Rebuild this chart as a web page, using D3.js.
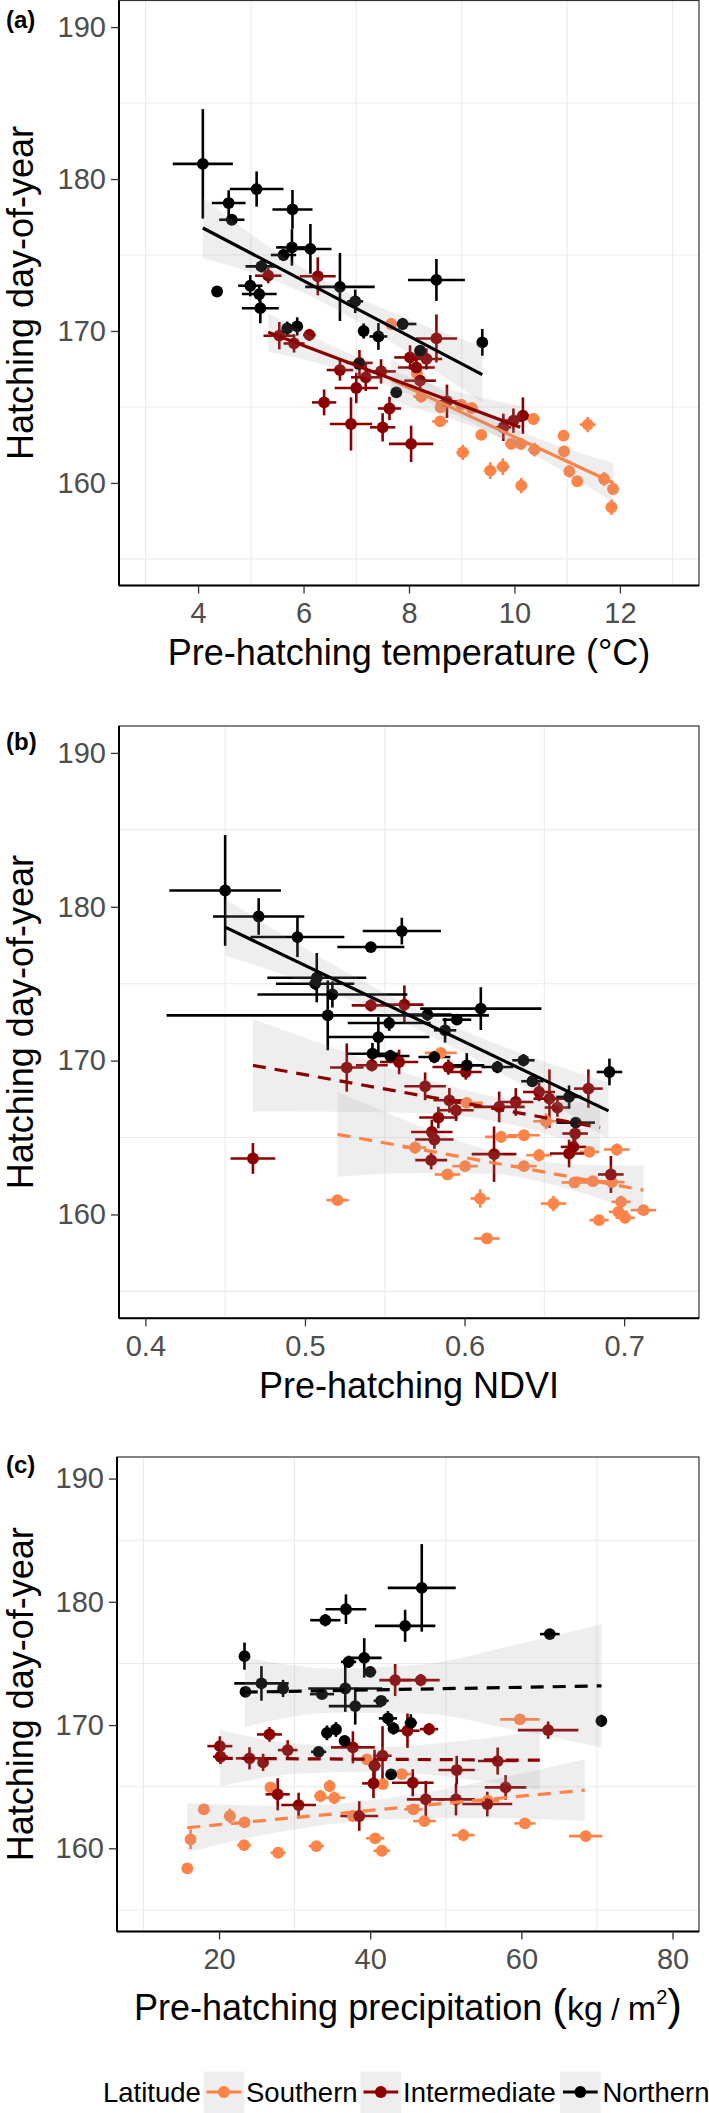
<!DOCTYPE html>
<html><head><meta charset="utf-8">
<script src="https://cdn.jsdelivr.net/npm/d3@7/dist/d3.min.js"></script>
<style>body{margin:0;background:#fff}svg{display:block}</style>
</head><body>
<svg id="chart" width="709" height="2113"></svg>
<script>
// ---------------- DATA ----------------
const groups = ["Southern", "Intermediate", "Northern"];
const groupColors = ["#FF8247", "#8B0000", "#000000"];
const yLimits = [155, 190];
const yTicks = [160, 170, 180, 190];
const yMinor = [155, 165, 175, 185];

const tempLimits = [3, 13];
const tempTicks = [4, 6, 8, 10, 12];
const tempMinor = [3, 5, 7, 9, 11, 13];
const ndviLimits = [0.4, 0.7304];
const ndviTicks = [0.4, 0.5, 0.6, 0.7];
const ndviMinor = [0.45, 0.55, 0.65];
const precLimits = [10, 80];
const precTicks = [20, 40, 60, 80];
const precMinor = [10, 30, 50, 70];

// [x, hatching day, x half-error, y half-error]
const tempSouthern = [
 [7.66,170.46,0.1,0.4],[8.15,167.2,0.1,0.3],[8.23,165.68,0.15,0.4],[8.59,164.05,0.15,0.35],
 [8.6,164.97,0.1,0.3],[8.99,165.15,0.12,0.3],[9.19,164.93,0.12,0.3],[9.02,162.01,0.12,0.5],
 [9.37,163.16,0.1,0.3],[9.54,160.81,0.12,0.55],[9.78,161.07,0.12,0.55],[9.94,162.57,0.12,0.3],
 [10.12,162.57,0.12,0.4],[10.13,159.82,0.1,0.5],[10.36,164.21,0.12,0.4],[10.38,162.19,0.12,0.45],
 [10.93,163.11,0.1,0.3],[10.94,162.08,0.1,0.3],[11.39,163.84,0.15,0.5],[11.04,160.76,0.1,0.4],
 [11.19,160.11,0.1,0.3],[11.7,160.26,0.1,0.45],[11.87,159.6,0.1,0.35],[11.84,158.4,0.1,0.5]
];
const tempIntermediate = [
 [5.33,173.64,0.25,0.5],[6.27,173.6,0.34,1.25],[5.54,169.69,0.3,0.9],[5.82,169.18,0.2,0.6],
 [6.11,169.74,0.12,0.4],[6.69,167.43,0.25,0.7],[7.18,166.95,0.28,0.9],[7.47,167.34,0.28,0.8],
 [7.0,166.25,0.41,1.0],[6.39,165.3,0.23,0.85],[6.9,163.88,0.4,1.75],[7.63,164.9,0.22,0.77],
 [7.5,163.66,0.24,0.93],[8.04,162.57,0.42,1.2],[8.02,168.26,0.3,0.8],[8.52,169.51,0.39,1.58],
 [8.33,168.16,0.3,0.7],[8.14,167.6,0.35,0.9],[8.21,166.73,0.3,0.6],[8.72,165.37,0.2,1.1],
 [9.79,163.66,0.15,0.9],[9.98,164.1,0.2,0.8],[10.16,164.43,0.12,1.2],[7.06,167.9,0.25,0.85]
];
const tempNorthern = [
 [4.09,181.0,0.57,3.6],[4.58,178.42,0.32,0.84],[4.64,177.32,0.24,0.3],[5.11,179.34,0.51,1.16],
 [5.79,178.0,0.38,1.28],[5.78,175.5,0.3,1.2],[5.62,175.0,0.24,0.4],[6.13,175.4,0.4,1.64],
 [5.2,174.25,0.3,0.4],[4.36,172.6,0.05,0.35],[4.99,172.98,0.23,0.7],[5.16,172.43,0.33,0.5],
 [5.18,171.5,0.35,0.99],[6.69,172.9,0.66,2.24],[6.98,171.95,0.15,0.77],[5.69,170.17,0.1,0.45],
 [5.88,170.3,0.1,0.6],[7.14,170.0,0.1,0.5],[7.42,169.64,0.17,0.88],[7.88,170.46,0.26,0.4],
 [7.05,167.83,0.1,0.3],[7.76,165.96,0.08,0.3],[8.21,168.7,0.1,0.3],[8.52,173.36,0.54,1.38],
 [9.39,169.25,0.08,0.88]
];

const ndviSouthern = [
 [0.5204,160.93,0.007,0.3],[0.569,164.35,0.007,0.4],[0.5851,170.5,0.01,0.3],[0.6014,167.25,0.01,0.3],
 [0.6511,166.06,0.008,0.5],[0.6229,165.04,0.01,0.4],[0.6372,165.15,0.01,0.3],[0.6467,163.85,0.008,0.4],
 [0.6783,164.07,0.006,0.3],[0.6954,164.22,0.008,0.4],[0.6004,163.14,0.008,0.3],[0.5893,162.6,0.008,0.3],
 [0.6372,163.14,0.008,0.3],[0.6689,162.08,0.008,0.3],[0.6804,162.16,0.008,0.3],[0.6923,162.1,0.008,0.4],
 [0.6098,161.04,0.006,0.6],[0.6557,160.71,0.008,0.5],[0.6981,160.82,0.006,0.4],[0.6964,160.17,0.006,0.3],
 [0.7006,159.78,0.006,0.3],[0.6843,159.63,0.006,0.3],[0.7121,160.28,0.008,0.3],[0.614,158.44,0.008,0.3]
];
const ndviIntermediate = [
 [0.5413,173.59,0.012,0.4],[0.5623,173.64,0.012,1.25],[0.5262,169.55,0.0105,1.57],[0.5419,169.7,0.01,0.4],
 [0.559,169.91,0.012,0.8],[0.5753,168.33,0.013,0.9],[0.4674,163.64,0.014,1.0],[0.5795,165.36,0.013,0.8],
 [0.5811,164.87,0.012,0.6],[0.5791,163.53,0.01,0.6],[0.5836,166.3,0.012,0.7],[0.5899,169.58,0.01,0.5],
 [0.6008,169.26,0.01,0.5],[0.5905,167.42,0.01,0.8],[0.5947,166.77,0.011,0.7],[0.6217,166.99,0.016,1.0],
 [0.6321,167.31,0.011,0.9],[0.6185,163.92,0.014,1.8],[0.6467,167.96,0.01,0.6],[0.6532,167.53,0.01,1.9],
 [0.6582,166.95,0.008,0.6],[0.6776,168.18,0.009,1.25],[0.6693,165.26,0.008,0.7],[0.6683,164.39,0.008,0.6],
 [0.6655,163.96,0.012,0.9],[0.6917,162.6,0.008,1.2]
];
const ndviNorthern = [
 [0.45,181.06,0.035,3.6],[0.471,179.37,0.0286,1.19],[0.4953,178.03,0.0294,1.3],[0.5607,178.42,0.0245,0.87],
 [0.5413,177.38,0.021,0.3],[0.5074,175.39,0.031,1.6],[0.5064,175.0,0.0245,0.4],[0.5172,174.3,0.047,0.85],
 [0.5143,172.94,0.101,2.27],[0.5528,172.44,0.026,0.5],[0.546,171.53,0.032,1.3],[0.5423,170.45,0.016,0.7],
 [0.5535,170.3,0.012,0.4],[0.5768,172.99,0.015,0.4],[0.5811,170.23,0.01,0.4],[0.5952,172.66,0.009,0.3],
 [0.5878,171.97,0.007,0.8],[0.6102,173.38,0.038,1.39],[0.6014,169.69,0.011,0.8],[0.6206,169.58,0.01,0.4],
 [0.6369,170.02,0.007,0.4],[0.6425,168.66,0.007,0.3],[0.6655,167.64,0.008,0.75],[0.6697,165.97,0.012,0.3],
 [0.6908,169.26,0.008,0.87]
];

const precSouthern = [
 [15.8,158.37,0.3,0.3],[16.24,160.73,0.4,0.8],[17.99,163.16,0.3,0.3],[21.43,162.62,0.8,0.6],
 [23.37,162.1,0.5,0.3],[23.3,160.26,0.9,0.3],[27.81,159.64,1.0,0.3],[32.87,160.18,1.0,0.3],
 [26.8,164.94,0.5,0.3],[33.4,164.24,0.8,0.5],[34.63,165.05,0.6,0.5],[35.25,164.1,1.4,0.5],
 [39.56,167.21,1.3,0.3],[41.68,165.21,0.6,0.3],[37.71,162.62,1.0,0.3],[40.66,160.81,1.2,0.4],
 [41.54,159.8,1.1,0.3],[44.18,166.02,1.2,0.3],[45.72,163.16,1.2,0.3],[47.17,162.21,1.5,0.3],
 [59.8,170.46,2.6,0.3],[60.46,162.02,1.4,0.3],[52.32,161.07,1.5,0.5],[68.51,160.99,2.2,0.3],
 [55.54,163.86,1.5,0.3]
];
const precIntermediate = [
 [43.3,173.65,2.1,1.3],[46.69,173.65,2.5,0.5],[20.11,168.29,1.65,0.8],[20.2,167.43,1.0,0.6],
 [24.03,167.3,1.8,0.9],[25.83,166.97,0.5,0.7],[26.67,169.24,1.65,0.6],[29.08,167.97,1.3,0.8],
 [27.76,164.38,1.6,1.3],[30.53,163.51,2.3,1.0],[37.71,168.19,2.9,1.3],[40.57,166.7,0.8,1.3],
 [40.43,165.27,1.5,1.2],[41.63,167.51,1.2,2.4],[38.55,162.62,2.5,1.2],[47.79,169.67,1.2,0.5],
 [44.93,169.54,1.6,1.4],[45.63,165.32,2.75,1.1],[51.44,166.35,2.4,1.15],[56.86,167.08,2.6,1.1],
 [63.54,169.59,4.0,0.7],[57.91,164.94,2.75,1.0],[47.35,163.97,2.5,1.5],[51.35,163.97,2.5,1.3],
 [55.49,163.59,3.3,1.0]
];
const precNorthern = [
 [23.37,175.59,0.4,1.1],[25.61,173.38,3.6,1.4],[23.5,172.7,0.5,0.3],[28.47,172.97,0.6,0.7],
 [33.62,172.51,1.6,0.3],[34.06,178.51,2.0,0.5],[36.79,179.4,2.7,1.2],[37.14,175.13,1.0,0.5],
 [39.21,175.45,2.3,1.6],[40.0,174.32,0.8,0.4],[36.7,172.97,4.9,1.9],[38.02,171.54,3.5,1.5],
 [41.45,171.97,1.0,0.4],[34.28,169.37,0.5,0.6],[35.47,169.64,0.5,0.6],[36.61,168.72,0.5,0.4],
 [33.18,167.83,1.0,0.4],[42.34,170.54,1.2,0.6],[43.08,169.73,0.6,0.5],[42.77,166.0,0.5,0.3],
 [46.82,181.13,4.5,3.55],[44.62,178.05,4.0,1.3],[63.76,177.38,1.3,0.3],[70.59,170.34,0.3,0.5],
 [45.37,170.18,0.8,0.7]
];

// fitted lines: [group, x0, y0, x1, y1, line type]
const tempFits = [
 ["Southern", 7.66, 166.8, 11.88, 160.0, "solid"],
 ["Intermediate", 5.33, 169.91, 10.11, 163.66, "solid"],
 ["Northern", 4.09, 176.78, 9.39, 167.13, "solid"]
];
const ndviFits = [
 ["Southern", 0.5204, 165.21, 0.7121, 161.58, "dashed"],
 ["Intermediate", 0.4674, 169.69, 0.685, 165.65, "dashed"],
 ["Northern", 0.45, 178.68, 0.6902, 166.73, "solid"]
];
const precFits = [
 ["Southern", 15.8, 161.67, 68.38, 164.72, "dashed"],
 ["Intermediate", 20.1, 167.3, 62.44, 167.15, "dashed"],
 ["Northern", 23.4, 172.67, 70.6, 173.18, "dashed"]
];
// confidence band half-widths (days) at 5 evenly spaced points along each fit
const tempBands = [
 ["Southern", 1.4, 0.8, 0.5, 0.75, 1.3],
 ["Intermediate", 1.26, 0.7, 0.55, 0.8, 1.4],
 ["Northern", 2.0, 1.0, 0.75, 1.15, 1.85]
];
const ndviBands = [
 ["Southern", 2.76, 1.6, 0.75, 0.8, 1.6],
 ["Intermediate", 3.0, 2.0, 1.1, 0.85, 1.6],
 ["Northern", 1.84, 1.0, 0.65, 0.95, 1.84]
];
const precBands = [
 ["Southern", 1.98, 1.0, 0.85, 1.5, 2.5],
 ["Intermediate", 2.3, 1.2, 1.0, 1.5, 2.4],
 ["Northern", 2.84, 1.8, 2.0, 3.4, 5.0]
];

// ---------------- DRAWING ----------------
const svg = d3.select("#chart");
svg.append("rect").attr("width", 709).attr("height", 2113).attr("fill", "#fff");
const FONT = "'Liberation Sans', Arial, Helvetica, sans-serif";
const color = d3.scaleOrdinal().domain(groups).range(groupColors);
function expand(l) { const r = l[1] - l[0]; return [l[0] - 0.05 * r, l[1] + 0.05 * r]; }
const PR = 5.9, EW = 2.6, LW = 3.2;

const panels = [
 { label: "(a)", labelY: 27.5, left: 119, right: 699, top: 0.5, bottom: 585.5,
   limits: tempLimits, ticks: tempTicks, minor: tempMinor, fmt: d3.format("d"),
   title: "Pre-hatching temperature (°C)", titleY: 665,
   sets: [tempSouthern, tempIntermediate, tempNorthern], fits: tempFits, bands: tempBands },
 { label: "(b)", labelY: 749.5, left: 119, right: 699, top: 726, bottom: 1318.3,
   limits: ndviLimits, ticks: ndviTicks, minor: ndviMinor, fmt: d3.format(".1f"),
   title: "Pre-hatching NDVI", titleY: 1397.5,
   sets: [ndviSouthern, ndviIntermediate, ndviNorthern], fits: ndviFits, bands: ndviBands },
 { label: "(c)", labelY: 1473, left: 117, right: 699, top: 1457, bottom: 1931.5,
   limits: precLimits, ticks: precTicks, minor: precMinor, fmt: d3.format("d"),
   title: null, titleY: 2020,
   sets: [precSouthern, precIntermediate, precNorthern], fits: precFits, bands: precBands }
];

panels.forEach(p => {
  const g = svg.append("g");
  const x = d3.scaleLinear().domain(expand(p.limits)).range([p.left, p.right]);
  const y = d3.scaleLinear().domain(expand(yLimits)).range([p.bottom, p.top]);

  // minor grid lines
  g.append("g").selectAll("line").data(p.minor.filter(v => v >= x.domain()[0] && v <= x.domain()[1]))
    .join("line").attr("x1", d => x(d)).attr("x2", d => x(d)).attr("y1", p.top).attr("y2", p.bottom)
    .attr("stroke", "#EBEBEB").attr("stroke-width", 1.1);
  g.append("g").selectAll("line").data(yMinor)
    .join("line").attr("y1", d => y(d)).attr("y2", d => y(d)).attr("x1", p.left).attr("x2", p.right)
    .attr("stroke", "#EBEBEB").attr("stroke-width", 1.1);

  // error bars
  const eb = g.append("g");
  p.sets.forEach((set, gi) => {
    const c = groupColors[gi];
    eb.append("g").selectAll("line.v").data(set).join("line")
      .attr("x1", d => x(d[0])).attr("x2", d => x(d[0]))
      .attr("y1", d => y(d[1] - d[3])).attr("y2", d => y(d[1] + d[3]))
      .attr("stroke", c).attr("stroke-width", EW);
    eb.append("g").selectAll("line.h").data(set).join("line")
      .attr("y1", d => y(d[1])).attr("y2", d => y(d[1]))
      .attr("x1", d => x(d[0] - d[2])).attr("x2", d => x(d[0] + d[2]))
      .attr("stroke", c).attr("stroke-width", EW);
  });
  // points
  p.sets.forEach((set, gi) => {
    g.append("g").selectAll("circle").data(set).join("circle")
      .attr("cx", d => x(d[0])).attr("cy", d => y(d[1])).attr("r", PR)
      .attr("fill", groupColors[gi]);
  });

  // smooth bands and lines
  p.fits.forEach((f, fi) => {
    const band = p.bands[fi];
    const hw = band.slice(1);
    const pts = hw.map((h, i) => {
      const t = i / (hw.length - 1);
      const xv = f[1] + (f[3] - f[1]) * t;
      const yv = f[2] + (f[4] - f[2]) * t;
      return { x: xv, lo: yv - h, hi: yv + h };
    });
    g.append("path").datum(pts)
      .attr("d", d3.area().x(d => x(d.x)).y0(d => y(d.lo)).y1(d => y(d.hi)).curve(d3.curveMonotoneX))
      .attr("fill", "#999999").attr("fill-opacity", 0.17);
    g.append("line")
      .attr("x1", x(f[1])).attr("y1", y(f[2])).attr("x2", x(f[3])).attr("y2", y(f[4]))
      .attr("stroke", color(f[0])).attr("stroke-width", LW)
      .attr("stroke-dasharray", f[5] === "dashed" ? "13,9" : null);
  });

  // panel border
  g.append("rect").attr("x", p.left).attr("y", p.top).attr("width", p.right - p.left)
    .attr("height", p.bottom - p.top).attr("fill", "none").attr("stroke", "#333").attr("stroke-width", 1.2);

  // axes
  const yAxis = g.append("g").attr("transform", `translate(${p.left},0)`)
    .call(d3.axisLeft(y).tickValues(yTicks).tickSize(8).tickPadding(5).tickFormat(d3.format("d")));
  const xAxis = g.append("g").attr("transform", `translate(0,${p.bottom})`)
    .call(d3.axisBottom(x).tickValues(p.ticks).tickSize(8).tickPadding(9).tickFormat(p.fmt));
  [yAxis, xAxis].forEach(a => {
    a.select(".domain").attr("stroke", "#000").attr("stroke-width", 2);
    a.selectAll(".tick line").attr("stroke", "#333").attr("stroke-width", 1.3);
    a.selectAll(".tick text").attr("fill", "#4D4D4D").style("font-family", FONT).style("font-size", "29px");
  });
  yAxis.select(".domain").attr("d", `M0,${p.top}V${p.bottom}`);
  xAxis.select(".domain").attr("d", `M${p.left},0H${p.right}`);

  // panel label
  svg.append("text").attr("x", 6).attr("y", p.labelY).text(p.label)
    .style("font-family", FONT).style("font-size", "24px").style("font-weight", "bold").attr("fill", "#000");

  // y title
  const cy = (p.top + p.bottom) / 2;
  svg.append("text").attr("transform", `translate(33,${cy}) rotate(-90)`).attr("text-anchor", "middle")
    .text("Hatching day-of-year").style("font-family", FONT).style("font-size", "36px").attr("fill", "#000");

  // x title
  const cx = (p.left + p.right) / 2;
  if (p.title) {
    svg.append("text").attr("x", cx).attr("y", p.titleY).attr("text-anchor", "middle")
      .text(p.title).style("font-family", FONT).style("font-size", "36px").attr("fill", "#000");
  } else {
    const t = svg.append("text").attr("x", cx).attr("y", p.titleY).attr("text-anchor", "middle")
      .style("font-family", FONT).style("font-size", "36px").attr("fill", "#000");
    t.append("tspan").text("Pre-hatching precipitation ");
    t.append("tspan").text("(").style("font-size", "44px").style("font-weight", "300");
    t.append("tspan").text("kg").style("font-size", "34px");
    t.append("tspan").text(" / ").style("font-size", "30px");
    t.append("tspan").text("m").style("font-size", "34px");
    t.append("tspan").text("2").style("font-size", "20px").attr("dy", -16);
    t.append("tspan").text(")").style("font-size", "44px").style("font-weight", "300").attr("dy", 16);
  }
});

// ---------------- LEGEND ----------------
const leg = svg.append("g");
leg.append("text").attr("x", 103).attr("y", 2101.5).text("Latitude")
  .style("font-family", FONT).style("font-size", "27.5px").attr("fill", "#000");
const keyX = [203.5, 360.5, 560];
groups.forEach((gname, i) => {
  const kx = keyX[i];
  leg.append("rect").attr("x", kx).attr("y", 2071.5).attr("width", 40.7).attr("height", 41.5)
    .attr("fill", "#999999").attr("fill-opacity", 0.17);
  leg.append("line").attr("x1", kx + 3).attr("x2", kx + 37.7).attr("y1", 2092).attr("y2", 2092)
    .attr("stroke", groupColors[i]).attr("stroke-width", LW);
  leg.append("circle").attr("cx", kx + 20.35).attr("cy", 2092).attr("r", PR).attr("fill", groupColors[i]);
  leg.append("text").attr("x", kx + 42.5).attr("y", 2101.5).text(gname)
    .style("font-family", FONT).style("font-size", "27.5px").attr("fill", "#000");
});
</script>
</body></html>
